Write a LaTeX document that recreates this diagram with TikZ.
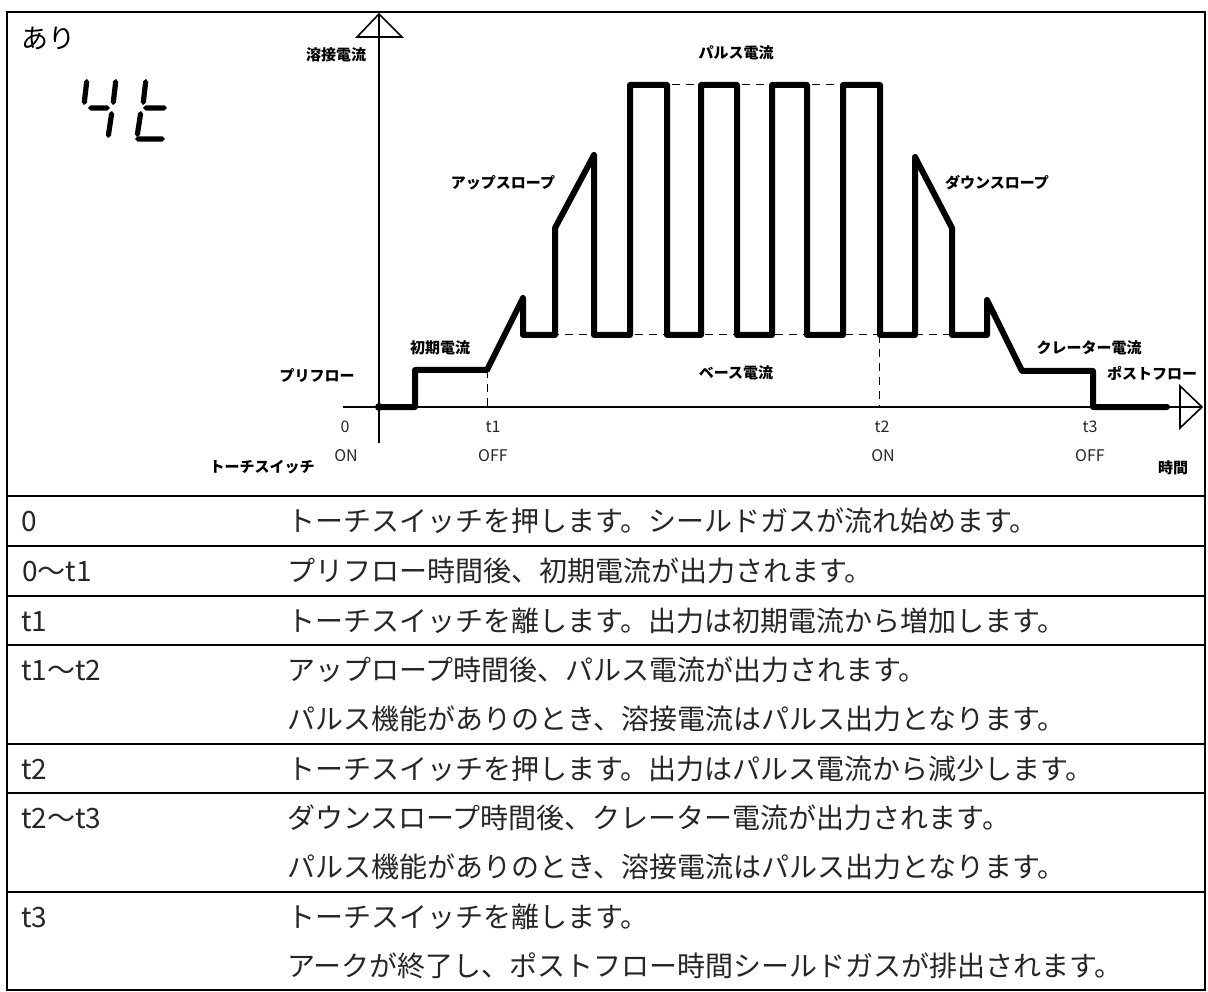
\documentclass[tikz,border=0pt]{standalone}
\usepackage{fontspec}
\setmainfont{Noto Sans CJK JP}
\usetikzlibrary{calc}
\tikzset{
  lbl/.style={font=\bfseries\fontsize{15}{15}\selectfont, inner sep=0pt},
  tick/.style={font=\fontsize{16}{16}\selectfont, text=black!85, inner sep=0pt},
  cell/.style={font=\fontsize{28}{28}\selectfont, anchor=base west, inner sep=0pt, text=black!85},
  frame/.style={line width=2pt},
  axis/.style={line width=1.6pt},
  wave/.style={line width=6pt, line join=round, line cap=round},
  guide/.style={line width=1pt, dash pattern=on 8pt off 6pt},
  arrowhead/.style={line width=1.6pt, line join=miter},
}
\newcommand\sevseg[2]{\fill (#1) -- ($(#1)!2.6pt!(#2)!2.6pt!90:(#2)$) -- ($(#2)!2.6pt!(#1)!2.6pt!-90:(#1)$) -- (#2) -- ($(#2)!2.6pt!(#1)!2.6pt!90:(#1)$) -- ($(#1)!2.6pt!(#2)!2.6pt!-90:(#2)$) -- cycle;}
\begin{document}
\begin{tikzpicture}[x=1pt,y=-1pt]
\useasboundingbox (0,0) rectangle (1208,992);
% frame and table rules
\draw[frame] (7,12) rectangle (1205,990);
\foreach \yy in {496,546,596,645,744,793,892} \draw[frame] (7,\yy) -- (1205,\yy);

% title
\node[font=\fontsize{27}{27}\selectfont, inner sep=0pt] (ari) at (48,38) {あり};
% seven segment "4t"
\sevseg{87,79}{84,105}
\sevseg{88,108}{110,108}
\sevseg{116,79}{113,105}
\sevseg{112,111}{108,138}
\sevseg{146,79}{143,105}
\sevseg{143,108}{167,108}
\sevseg{141,111}{137,137}
\sevseg{135,139}{165,139}

% guide lines
\draw[guide] (630,85) -- (880,85);
\draw[guide] (523,335) -- (987,335);
\draw[guide] (487,370) -- (487,407);
\draw[guide] (879,335) -- (879,407);

% axes
\coordinate (ybot) at (379,443);
\coordinate (ytip) at (379,14);
\coordinate (xleft) at (343,407);
\coordinate (xtip) at (1202,407);
\draw[axis] (ybot) -- (ytip);
\draw[arrowhead] (ytip) -- (402,37) -- (357,37) -- cycle;
\draw[axis] (xleft) -- (xtip);
\draw[arrowhead] (xtip) -- (1180,386) -- (1180,428) -- cycle;

% waveform
\draw[wave] (379,407) -- (415,407) -- (415,370) -- (487,370) -- (523,298) -- (523,335)
  -- (555,335) -- (555,228) -- (594,155) -- (594,335) -- (630,335) -- (630,85)
  -- (667,85) -- (667,335) -- (701,335) -- (701,85) -- (737,85) -- (737,335)
  -- (772,335) -- (772,85) -- (807,85) -- (807,335) -- (843,335) -- (843,85)
  -- (880,85) -- (880,335) -- (915,335) -- (915,157) -- (952,228) -- (952,335)
  -- (987,335) -- (987,300) -- (1022,371) -- (1093,371) -- (1093,407) -- (1167,407);
\fill (379,407) circle (4);

% diagram labels
\node[lbl] (yousetsu) at (336,55) {溶接電流};
\node[lbl] (pulse) at (736,53) {パルス電流};
\node[lbl] (upslope) at (503,183) {アップスロープ};
\node[lbl] (downslope) at (997,183) {ダウンスロープ};
\node[lbl] (shoki) at (440,348) {初期電流};
\node[lbl] (preflow) at (317,376) {プリフロー};
\node[lbl] (base) at (736,373) {ベース電流};
\node[lbl] (crater) at (1089,348) {クレーター電流};
\node[lbl] (postflow) at (1152,373) {ポストフロー};
\node[lbl] (jikan) at (1173,468) {時間};
\node[lbl] (torch) at (262,467) {トーチスイッチ};
\node[tick] (t0) at (345,427) {0};
\node[tick] (s0) at (346,456) {ON};
\node[tick] (t1) at (493,427) {t1};
\node[tick] (s1) at (493,456) {OFF};
\node[tick] (t2) at (882,427) {t2};
\node[tick] (s2) at (883,456) {ON};
\node[tick] (t3) at (1090,427) {t3};
\node[tick] (s3) at (1090,456) {OFF};

% table text
\node[cell] (k0) at (21,531) {0};
\node[cell] (d0) at (287,531) {トーチスイッチを押します。シールドガスが流れ始めます。};
\node[cell] (k1) at (22,581) {0～t1};
\node[cell] (d1) at (287,581) {プリフロー時間後、初期電流が出力されます。};
\node[cell] (k2) at (21,631) {t1};
\node[cell] (d2) at (287,631) {トーチスイッチを離します。出力は初期電流から増加します。};
\node[cell] (k3) at (21,680) {t1～t2};
\node[cell] (d3a) at (287,680) {アップロープ時間後、パルス電流が出力されます。};
\node[cell] (d3b) at (287,729) {パルス機能がありのとき、溶接電流はパルス出力となります。};
\node[cell] (k4) at (21,779) {t2};
\node[cell] (d4) at (287,779) {トーチスイッチを押します。出力はパルス電流から減少します。};
\node[cell] (k5) at (21,828) {t2～t3};
\node[cell] (d5a) at (287,828) {ダウンスロープ時間後、クレーター電流が出力されます。};
\node[cell] (d5b) at (287,877) {パルス機能がありのとき、溶接電流はパルス出力となります。};
\node[cell] (k6) at (21,927) {t3};
\node[cell] (d6a) at (287,927) {トーチスイッチを離します。};
\node[cell] (d6b) at (287,976) {アークが終了し、ポストフロー時間シールドガスが排出されます。};
\end{tikzpicture}
\end{document}
